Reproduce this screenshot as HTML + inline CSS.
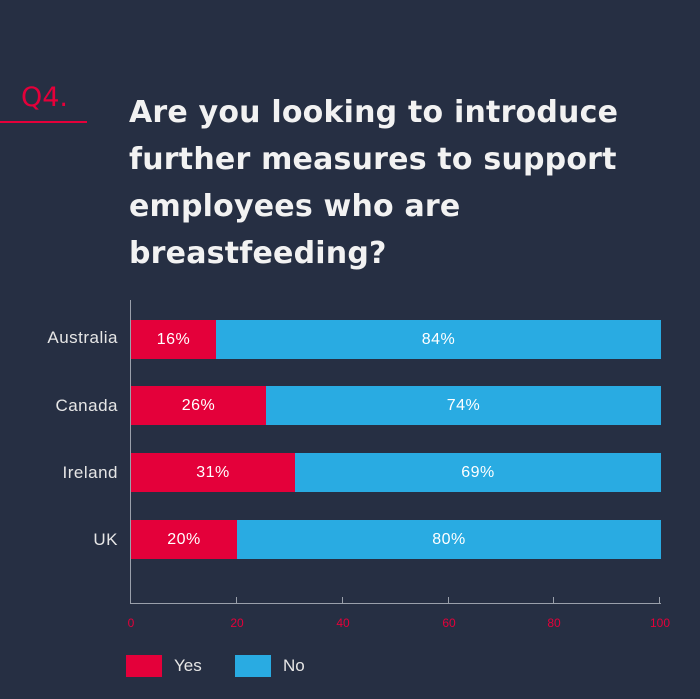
<!DOCTYPE html>
<html><head><style>
body{margin:0;width:700px;height:699px;background:#262f43;position:relative;overflow:hidden;font-family:"Liberation Sans","DejaVu Sans",sans-serif}
.a{position:absolute}
.t{left:129px;top:89px;color:#f2f2f2;font-family:"DejaVu Sans","Liberation Sans",sans-serif;font-weight:bold;font-size:30px;line-height:47px;letter-spacing:0.2px}
.lab{width:118px;left:0;text-align:right;color:#e6e6e6;font-size:17px;letter-spacing:0.5px}
.bar{height:39px;color:#fff;font-size:16px;line-height:39px;text-align:center;letter-spacing:0.5px}
.y{background:#e4003a}.n{background:#29abe2}
.tk{color:#e4003a;font-size:12px;width:40px;text-align:center;top:616px}
</style></head><body>
<div class="a" style="left:21px;top:82px;color:#e4003a;font-size:27px;font-family:'DejaVu Sans',sans-serif">Q4.</div>
<div class="a" style="left:0;top:121px;width:87px;height:2px;background:#e4003a"></div>
<div class="a t">Are you looking to introduce<br>further measures to support<br>employees who are<br>breastfeeding?</div>

<div class="a" style="left:130px;top:300px;width:1px;height:304px;background:#9aa0ab"></div>
<div class="a" style="left:130px;top:603px;width:531px;height:1px;background:#9aa0ab"></div>
<div class="a" style="left:236px;top:597px;width:1px;height:6px;background:#9aa0ab"></div>
<div class="a" style="left:342px;top:597px;width:1px;height:6px;background:#9aa0ab"></div>
<div class="a" style="left:448px;top:597px;width:1px;height:6px;background:#9aa0ab"></div>
<div class="a" style="left:553px;top:597px;width:1px;height:6px;background:#9aa0ab"></div>
<div class="a" style="left:659px;top:597px;width:1px;height:6px;background:#9aa0ab"></div>

<div class="a lab" style="top:328px">Australia</div>
<div class="a bar y" style="left:131px;top:320px;width:85px">16%</div>
<div class="a bar n" style="left:216px;top:320px;width:445px">84%</div>

<div class="a lab" style="top:396px">Canada</div>
<div class="a bar y" style="left:131px;top:386px;width:135px">26%</div>
<div class="a bar n" style="left:266px;top:386px;width:395px">74%</div>

<div class="a lab" style="top:463px">Ireland</div>
<div class="a bar y" style="left:131px;top:453px;width:164px">31%</div>
<div class="a bar n" style="left:295px;top:453px;width:366px">69%</div>

<div class="a lab" style="top:530px">UK</div>
<div class="a bar y" style="left:131px;top:520px;width:106px">20%</div>
<div class="a bar n" style="left:237px;top:520px;width:424px">80%</div>

<div class="a tk" style="left:111px">0</div>
<div class="a tk" style="left:217px">20</div>
<div class="a tk" style="left:323px">40</div>
<div class="a tk" style="left:429px">60</div>
<div class="a tk" style="left:534px">80</div>
<div class="a tk" style="left:640px">100</div>

<div class="a y" style="left:126px;top:655px;width:36px;height:22px"></div>
<div class="a" style="left:174px;top:656px;color:#e6e6e6;font-size:17px">Yes</div>
<div class="a n" style="left:235px;top:655px;width:36px;height:22px"></div>
<div class="a" style="left:283px;top:656px;color:#e6e6e6;font-size:17px">No</div>
</body></html>
